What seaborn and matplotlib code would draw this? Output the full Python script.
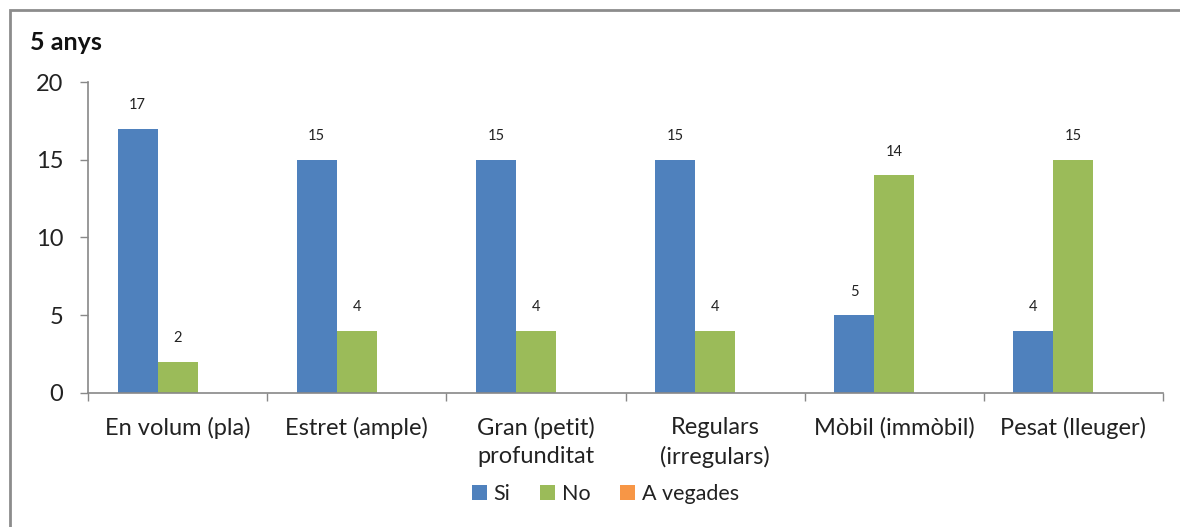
import pandas as pd
import numpy as np
import matplotlib
matplotlib.use("Agg")
import matplotlib.pyplot as plt
import seaborn as sns
from matplotlib.patches import Rectangle

# dades
categories = ["En volum (pla)", "Estret (ample)", "Gran (petit)\nprofunditat",
              "Regulars\n(irregulars)", "Mòbil (immòbil)", "Pesat (lleuger)"]
series = ["Si", "No", "A vegades"]
si = [17, 15, 15, 15, 5, 4]
no = [2, 4, 4, 4, 14, 15]
a_vegades = [0, 0, 0, 0, 0, 0]
colors = ["#4F81BD", "#9BBB59", "#F79646"]

df = pd.DataFrame({
    "cat": categories * 3,
    "serie": [series[0]] * 6 + [series[1]] * 6 + [series[2]] * 6,
    "val": si + no + a_vegades,
})

sns.set_theme(style="white")
plt.rcParams["font.family"] = ["Lato", "DejaVu Sans"]

fig = plt.figure(figsize=(11.8, 5.27), dpi=100)
ax = fig.add_axes([0.0746, 0.2543, 0.911, 0.5901])

sns.barplot(data=df, x="cat", y="val", hue="serie", palette=colors,
            width=0.67, linewidth=0, saturation=1, ax=ax)

for cont in ax.containers:
    labels = [f"{int(b.get_height())}" if b.get_height() > 0 else "" for b in cont]
    ax.bar_label(cont, labels=labels, padding=12, fontsize=10.5, color="#222222")

ax.set_ylim(0, 20)
ax.set_xlim(-0.5, 5.5)
ax.set_yticks([0, 5, 10, 15, 20])
ax.set_xlabel("")
ax.set_ylabel("")

for s in ["top", "right"]:
    ax.spines[s].set_visible(False)
for s in ["left", "bottom"]:
    ax.spines[s].set_color("#888888")
    ax.spines[s].set_linewidth(1.2)

ax.tick_params(axis="y", which="major", length=6, width=1, color="#888888",
               direction="out", left=True, labelsize=17, labelcolor="#222222", pad=12)
ax.tick_params(axis="x", which="major", length=0, labelsize=17, labelcolor="#222222", pad=17)
for lbl in ax.get_xticklabels():
    lbl.set_linespacing(1.45)
ax.set_xticks(np.arange(-0.5, 6.0, 1.0), minor=True)
ax.tick_params(axis="x", which="minor", length=6, width=1, color="#888888",
               direction="out", bottom=True)

ax.legend(loc="center", bbox_to_anchor=(0.513, 0.063), bbox_transform=fig.transFigure,
          ncol=3, frameon=False, fontsize=15.5, handlelength=0.7, handleheight=0.7,
          handletextpad=0.3, columnspacing=1.4, labelcolor="#222222")

fig.text(30 / 1180, 1 - 42 / 527, "5 anys", fontsize=18, fontweight="bold",
         va="center", ha="left", color="#111111")

# marc de l'area del grafic
fig.patches.append(Rectangle((10 / 1180, -0.05), 1.2, 1 - 10 / 527 + 0.05,
                             transform=fig.transFigure, fill=False,
                             edgecolor="#8c8c8c", linewidth=2))

fig.savefig("out.png", dpi=100, facecolor="white")
